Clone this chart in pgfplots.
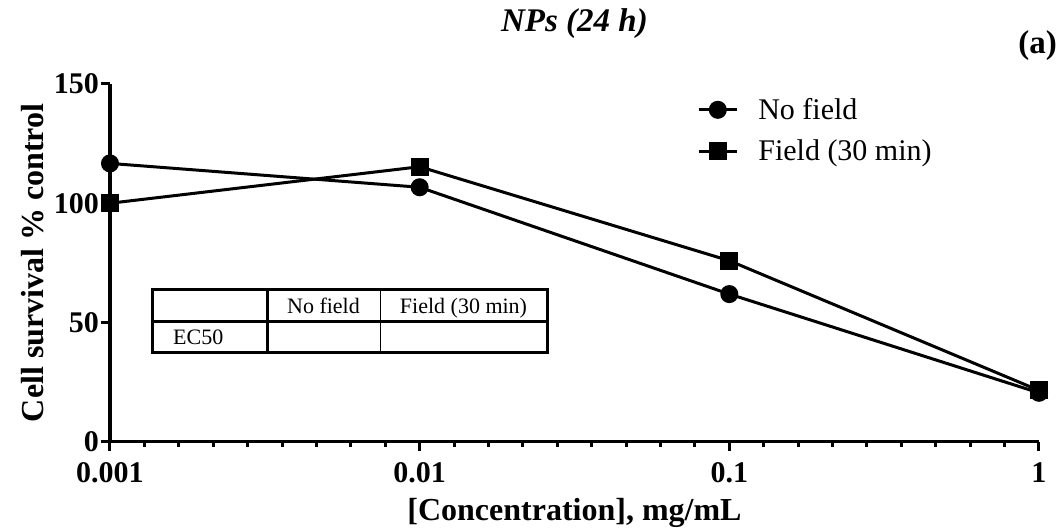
\documentclass[border=0pt]{standalone}
\usepackage{fontspec}
\setmainfont{Liberation Serif}
\usepackage{pgfplots}
\pgfplotsset{compat=1.18}
\newcommand{\fs}[1]{\fontsize{#1}{#1}\selectfont}

\begin{document}
\begin{tikzpicture}
\path[use as bounding box] (-110pt,-88.3pt) rectangle (949pt,441.7pt);
\begin{axis}[
    at={(0,0)}, anchor=south west,
    scale only axis, width=929pt, height=357.7pt,
    xmode=log, xmin=0.001, xmax=1, ymin=0, ymax=150,
    xtick={0.001,0.01,0.1,1}, xticklabels={0.001,0.01,0.1,1},
    minor xtick={0.00129155,0.0016681,0.00215443,0.00278256,0.00359381,0.00464159,0.00599484,0.00774264,
                 0.0129155,0.016681,0.0215443,0.0278256,0.0359381,0.0464159,0.0599484,0.0774264,
                 0.129155,0.16681,0.215443,0.278256,0.359381,0.464159,0.599484,0.774264},
    ytick={0,50,100,150},
    axis x line*=bottom, axis y line*=left,
    axis line style={line width=3.5pt},
    tick style={line width=3pt, black},
    tick align=outside, major tick length=9pt, minor tick length=5pt,
    /pgf/number format/assume math mode=true,
    tick label style={font=\fs{30}\bfseries, inner sep=2pt},
    xticklabel style={yshift=-10pt},
    clip=false,
    title={NPs (24 h)},
    title style={font=\fs{33}\bfseries\itshape, at={(axis description cs:0.5,1)}, anchor=base, yshift=46pt},
    xlabel={[Concentration], mg/mL},
    xlabel style={font=\fs{32}\bfseries, at={(axis description cs:0.5,0)}, anchor=base, yshift=-79pt},
    ylabel={Cell survival \% control},
    ylabel style={font=\fs{32}\bfseries, at={(axis description cs:0,0.5)}, anchor=base, yshift=66pt},
    legend style={draw=none, fill=none, at={(0.632,0.96)}, anchor=north west,
        font=\fs{30}, inner sep=0pt, row sep=19pt, column sep=20pt, nodes={inner sep=0pt}},
    legend cell align=left,
    legend image code/.code={
        \draw[#1, mark=none] (0pt,0pt) -- (38pt,0pt);
        \draw[#1, only marks] plot coordinates {(19pt,0pt)};
    },
]
\addplot[black, line width=3pt, mark=*, mark size=7.5pt, mark options={solid}] coordinates {
    (0.001,116.7) (0.01,106.7) (0.1,61.9) (1,20.5)
};
\addlegendentry{No field}
\addplot[black, line width=3pt, mark=square*, mark size=7.5pt, mark options={solid}] coordinates {
    (0.001,100) (0.01,115.3) (0.1,75.9) (1,21.5)
};
\addlegendentry{Field (30 min)}
\end{axis}
% (a) panel tag
\node[anchor=base east, font=\fs{33}\bfseries, inner sep=0pt] at (947pt,388pt) {(a)};
% EC50 table
\draw[line width=3pt] (42pt,89.7pt) rectangle (437pt,151.7pt);
\draw[line width=3pt] (42pt,119.7pt) -- (437pt,119.7pt);
\draw[line width=3pt] (157pt,89.7pt) -- (157pt,151.7pt);
\draw[line width=0.8pt] (270pt,89.7pt) -- (270pt,151.7pt);
\node[font=\fs{22}, anchor=base, inner sep=0pt] at (213.5pt,128pt) {No field};
\node[font=\fs{22}, anchor=base, inner sep=0pt] at (353.5pt,128pt) {Field (30 min)};
\node[font=\fs{22}, anchor=base west, inner sep=0pt] at (63pt,97.5pt) {EC50};
\end{tikzpicture}
\end{document}
